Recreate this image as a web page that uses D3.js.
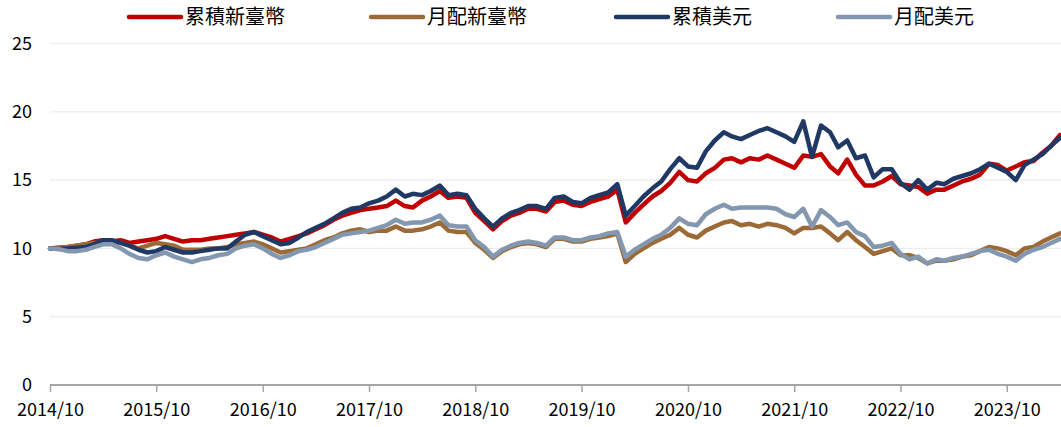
<!DOCTYPE html>
<html>
<head>
<meta charset="utf-8">
<script src="https://cdn.jsdelivr.net/npm/d3@7.9.0/dist/d3.min.js"></script>
<style>
  body { margin: 0; background: #fff; }
  svg { display: block; font-family: "Noto Sans CJK TC", "Noto Sans", sans-serif; }
</style>
</head>
<body>
<svg id="chart" width="1061" height="427"></svg>
<script>
// monthly NAV, 2014/10 .. 2024/04
const startMonth = '2014/10';
const seriesNames = ['累積新臺幣', '月配新臺幣', '累積美元', '月配美元'];
const seriesColors = ['#C00000', '#9C6A36', '#1F3864', '#8497B0'];
const yTicks = [0, 5, 10, 15, 20, 25];
const xTickLabels = ['2014/10', '2015/10', '2016/10', '2017/10', '2018/10',
  '2019/10', '2020/10', '2021/10', '2022/10', '2023/10'];

const accTwd = [
  10.0, 10.05, 10.1, 10.2, 10.3, 10.5, 10.6, 10.5, 10.6, 10.4,
  10.5, 10.6, 10.7, 10.9, 10.7, 10.5, 10.6, 10.6, 10.7, 10.8,
  10.9, 11.0, 11.1, 11.2, 11.0, 10.8, 10.5, 10.7, 10.9, 11.1,
  11.4, 11.7, 12.1, 12.4, 12.6, 12.8, 12.9, 13.0, 13.1, 13.5,
  13.1, 13.0, 13.5, 13.8, 14.2, 13.7, 13.8, 13.7, 12.6, 12.0,
  11.4, 12.0, 12.4, 12.6, 12.9, 12.9, 12.7, 13.4, 13.5, 13.2,
  13.1, 13.4, 13.6, 13.8, 14.3, 11.9, 12.6, 13.2, 13.8, 14.2,
  14.8, 15.6, 15.0, 14.9, 15.5, 15.9, 16.5, 16.6, 16.3, 16.6,
  16.5, 16.8, 16.5, 16.2, 15.9, 16.8, 16.7, 16.9, 16.0, 15.5,
  16.5, 15.4, 14.6, 14.6, 14.9, 15.3, 14.7, 14.6, 14.5, 14.0,
  14.3, 14.3, 14.6, 14.9, 15.1, 15.4, 16.2, 16.1, 15.7, 16.0,
  16.3, 16.4, 17.0, 17.5, 18.3
];

const monTwd = [
  10.0, 10.05, 10.1, 10.2, 10.3, 10.4, 10.4, 10.5, 10.4, 10.2,
  10.0, 10.2, 10.4, 10.3, 10.2, 9.9, 9.9, 9.9, 10.0, 10.0,
  10.1, 10.3, 10.4, 10.5, 10.3, 10.0, 9.7, 9.8, 9.9, 10.0,
  10.3, 10.6, 10.8, 11.1, 11.3, 11.4, 11.2, 11.3, 11.3, 11.6,
  11.3, 11.3, 11.4, 11.6, 11.9, 11.3, 11.2, 11.2, 10.4, 9.9,
  9.3, 9.8, 10.1, 10.3, 10.4, 10.3, 10.1, 10.7, 10.7, 10.5,
  10.5, 10.7, 10.8, 10.9, 11.1, 9.0, 9.6, 10.0, 10.4, 10.7,
  11.0, 11.5, 11.0, 10.8, 11.3, 11.6, 11.9, 12.0, 11.7, 11.8,
  11.6, 11.8, 11.7, 11.5, 11.1, 11.5, 11.5, 11.6, 11.1, 10.6,
  11.2, 10.6, 10.1, 9.6, 9.8, 10.0, 9.5, 9.5, 9.3, 8.9,
  9.1, 9.1, 9.2, 9.4, 9.5, 9.8, 10.1, 10.0, 9.8, 9.5,
  10.0, 10.1, 10.5, 10.8, 11.1
];

const accUsd = [
  10.0, 9.95, 10.0, 10.05, 10.1, 10.3, 10.6, 10.6, 10.4, 10.2,
  9.9, 9.7, 9.8, 10.1, 9.9, 9.7, 9.7, 9.8, 9.9, 10.0,
  10.0, 10.5, 11.0, 11.2, 10.9, 10.6, 10.3, 10.4, 10.8, 11.2,
  11.5, 11.8, 12.2, 12.6, 12.9, 13.0, 13.3, 13.5, 13.8, 14.3,
  13.8, 14.0, 13.9, 14.2, 14.6, 13.9, 14.0, 13.9, 12.9, 12.2,
  11.6, 12.2, 12.6, 12.8, 13.1, 13.1, 12.9, 13.7, 13.8, 13.4,
  13.3, 13.7, 13.9, 14.1, 14.7, 12.4, 13.1, 13.8, 14.4, 14.9,
  15.8, 16.6, 16.0, 15.9, 17.1, 17.9, 18.5, 18.2, 18.0, 18.3,
  18.6, 18.8, 18.5, 18.2, 17.8, 19.3, 16.7, 19.0, 18.5, 17.4,
  17.9, 16.6, 16.8, 15.2, 15.8, 15.8, 14.8, 14.3, 15.0, 14.3,
  14.8, 14.7, 15.1, 15.3, 15.5, 15.8, 16.2, 15.9, 15.6, 15.0,
  16.1, 16.5, 16.9, 17.5, 18.1
];

const monUsd = [
  10.0, 9.95, 9.8, 9.8, 9.9, 10.1, 10.3, 10.3, 10.0, 9.6,
  9.3, 9.2, 9.5, 9.7, 9.4, 9.2, 9.0, 9.2, 9.3, 9.5,
  9.6, 10.0, 10.2, 10.3, 10.0, 9.6, 9.3, 9.5, 9.8, 9.9,
  10.1, 10.4, 10.7, 11.0, 11.1, 11.2, 11.3, 11.5, 11.7, 12.1,
  11.8, 11.9, 11.9, 12.1, 12.4, 11.7, 11.6, 11.6, 10.6, 10.1,
  9.4, 9.9, 10.2, 10.4, 10.5, 10.4, 10.2, 10.8, 10.8, 10.6,
  10.6, 10.8, 10.9, 11.1, 11.2, 9.4, 9.9, 10.3, 10.7, 11.0,
  11.5, 12.2, 11.8, 11.7, 12.5, 12.9, 13.2, 12.9, 13.0, 13.0,
  13.0, 13.0, 12.9, 12.5, 12.3, 12.9, 11.6, 12.8, 12.3, 11.7,
  11.9, 11.2, 10.9, 10.1, 10.2, 10.4, 9.6, 9.2, 9.4, 8.9,
  9.2, 9.1, 9.3, 9.4, 9.6, 9.8, 9.9, 9.6, 9.4, 9.1,
  9.6, 9.9, 10.1, 10.4, 10.7
];

const allSeries = [accTwd, monTwd, accUsd, monUsd];

const parseMonth = d3.timeParse('%Y/%m');
const start = parseMonth(startMonth);
const dates = accTwd.map((_, i) => d3.timeMonth.offset(start, i));

const svg = d3.select('#chart');
const plotLeft = 50, plotRight = 1061, plotTop = 43.5, plotBottom = 385;

const x = d3.scaleTime()
  .domain([start, dates[dates.length - 1]])
  .range([plotLeft, plotRight - 1]);
const y = d3.scaleLinear().domain([0, 25]).range([plotBottom, plotTop]);

// gridlines
svg.append('g')
  .selectAll('line')
  .data(yTicks.filter(d => d > 0))
  .join('line')
  .attr('x1', plotLeft).attr('x2', plotRight)
  .attr('y1', d => y(d)).attr('y2', d => y(d))
  .attr('stroke', '#EDEDED')
  .attr('stroke-width', 1.2);

// y axis labels
let yAxis = svg.append('g')
  .attr('transform', `translate(${plotLeft},0)`)
  .call(d3.axisLeft(y).tickValues(yTicks).tickSize(0).tickPadding(18));
yAxis.select('.domain').remove();
yAxis.selectAll('text')
  .attr('font-size', 18)
  .attr('fill', '#000')
  .attr('font-family', '"Noto Sans CJK TC", sans-serif');

// x axis
let xAxis = svg.append('g')
  .attr('transform', `translate(0,${plotBottom})`)
  .call(d3.axisBottom(x)
    .tickValues(xTickLabels.map(parseMonth))
    .tickFormat(d3.timeFormat('%Y/%m'))
    .tickSize(7));
xAxis.select('.domain')
  .attr('d', `M${plotLeft},0H${plotRight}`)
  .attr('stroke', '#A6A6A6')
  .attr('stroke-width', 2);
xAxis.selectAll('.tick line').attr('stroke', '#A6A6A6').attr('stroke-width', 1.5);
xAxis.selectAll('text')
  .attr('y', 18)
  .attr('font-size', 18)
  .attr('fill', '#000')
  .attr('font-family', '"Noto Sans CJK TC", sans-serif');

// lines
let line = d3.line()
  .x((d, i) => x(dates[i]))
  .y(d => y(d));

allSeries.forEach((values, idx) => {
  svg.append('path')
    .datum(values)
    .attr('d', line)
    .attr('fill', 'none')
    .attr('stroke', seriesColors[idx])
    .attr('stroke-width', 4.5)
    .attr('stroke-linejoin', 'round')
    .attr('stroke-linecap', 'round');
});

// legend
const legendX = [129, 371, 616, 838];
let legend = svg.append('g');
seriesNames.forEach((name, idx) => {
  let g = legend.append('g').attr('transform', `translate(${legendX[idx]},17)`);
  g.append('line')
    .attr('x1', 0).attr('x2', 52)
    .attr('stroke', seriesColors[idx])
    .attr('stroke-width', 4.5)
    .attr('stroke-linecap', 'round');
  g.append('text')
    .attr('x', 56)
    .attr('dy', '0.35em')
    .attr('font-size', 20)
    .attr('fill', '#000')
    .text(name);
});
</script>
</body>
</html>
